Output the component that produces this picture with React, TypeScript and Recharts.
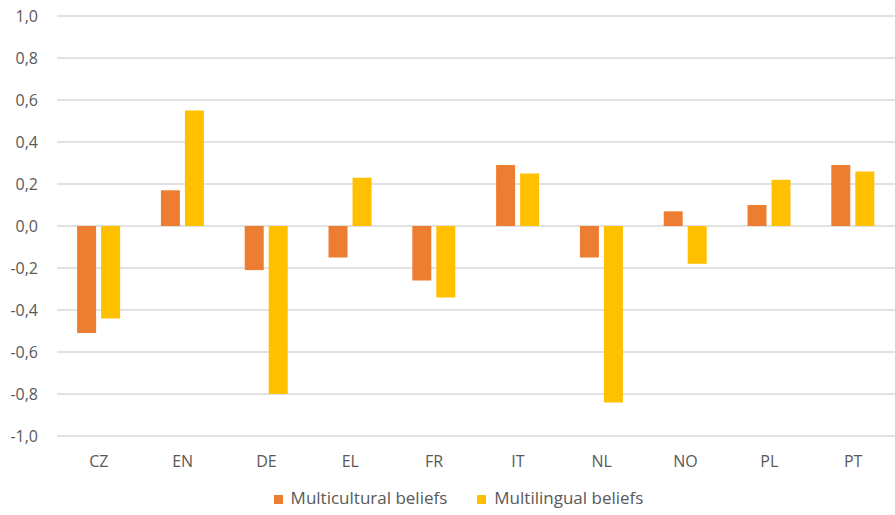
import { BarChart, Bar, XAxis, YAxis, CartesianGrid, Legend } from 'recharts';

const countries = ['CZ', 'EN', 'DE', 'EL', 'FR', 'IT', 'NL', 'NO', 'PL', 'PT'];
const multicultural = [-0.51, 0.17, -0.21, -0.15, -0.26, 0.29, -0.15, 0.07, 0.1, 0.29];
const multilingual = [-0.44, 0.55, -0.8, 0.23, -0.34, 0.25, -0.84, -0.18, 0.22, 0.26];
const yTicks = [-1, -0.8, -0.6, -0.4, -0.2, 0, 0.2, 0.4, 0.6, 0.8, 1];

const data = countries.map((c, i) => ({
  country: c,
  multicultural: multicultural[i],
  multilingual: multilingual[i],
}));

const FONT = '"Open Sans", "Noto Sans", sans-serif';
const TEXT = '#595959';

const fmt = (v: number) => v.toFixed(1).replace('.', ',');

export default function App() {
  return (
    <div style={{ position: 'absolute', left: 0, top: 0, width: 895, height: 515, background: '#fff', fontFamily: FONT }}>
      <BarChart
        width={895}
        height={515}
        data={data}
        margin={{ top: 16, right: 0, left: 0, bottom: 0 }}
        barCategoryGap="24%"
        barGap={5}
      >
        <CartesianGrid vertical={false} stroke="#d9d9d9" strokeWidth={1.3} />
        <XAxis
          dataKey="country"
          axisLine={false}
          tickLine={false}
          tickMargin={14}
          height={36}
          tick={{ fontSize: 16, fill: TEXT, fontFamily: FONT }}
        />
        <YAxis
          domain={[-1, 1]}
          ticks={yTicks}
          tickFormatter={fmt}
          axisLine={false}
          tickLine={false}
          tickMargin={13}
          width={57}
          tick={{ fontSize: 16, fill: TEXT, fontFamily: FONT }}
        />
        <Legend
          verticalAlign="bottom"
          iconType="square"
          iconSize={9}
          height={29}
          wrapperStyle={{ fontSize: 17, fontFamily: FONT, paddingTop: 14, paddingLeft: 26 }}
          formatter={(value) => <span style={{ color: TEXT, marginLeft: 4, marginRight: 20 }}>{value}</span>}
        />
        <Bar dataKey="multicultural" name="Multicultural beliefs" fill="#ED7D31" isAnimationActive={false} />
        <Bar dataKey="multilingual" name="Multilingual beliefs" fill="#FFC000" isAnimationActive={false} />
      </BarChart>
    </div>
  );
}
